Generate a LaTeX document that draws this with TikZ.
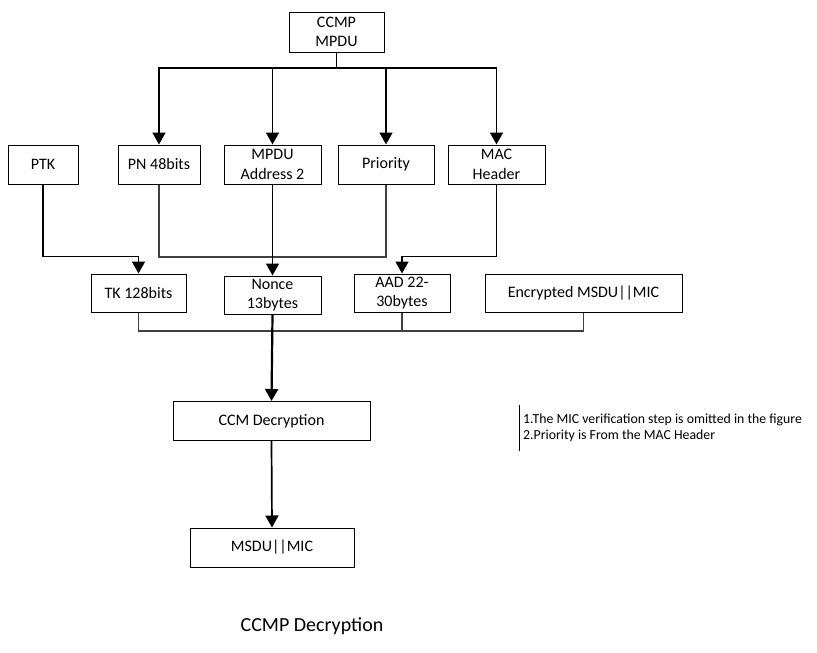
\documentclass[tikz,border=0pt]{standalone}
\usepackage{fontspec}
\setmainfont{Carlito}
\usetikzlibrary{arrows.meta}

\begin{document}
\begin{tikzpicture}[x=1pt,y=-1pt,
    box/.style={draw, line width=1pt, inner sep=0pt, align=center, minimum height=39pt, font=\fontsize{16}{19.5}\selectfont},
    arr/.style={line width=1.7pt, -{Triangle[width=13pt,length=12pt]}},
    link/.style={line width=1.4pt, black!75}]
      \useasboundingbox (0,0) rectangle (817,653);

      \node (ccmp) at (336.5,32) [box, minimum width=95pt, minimum height=40pt] {CCMP\\MPDU};
      \node (ptk) at (43,164.5) [box, minimum width=70pt] {PTK};
      \node (pn) at (159,164.5) [box, minimum width=82pt] {PN 48bits};
      \node (mpdu) at (272.5,164.5) [box, minimum width=97pt] {MPDU\\Address 2};
      \node (prio) at (386,164.5) [box, minimum width=96pt] {Priority};
      \node (mac) at (496.5,164.5) [box, minimum width=97pt] {MAC\\Header};

      \node (tk) at (138.5,293) [box, minimum width=95pt, minimum height=38pt] {TK 128bits};
      \node (nonce) at (272.5,295) [box, minimum width=97pt, minimum height=38pt] {Nonce\\13bytes};
      \node (aad) at (402,293) [box, minimum width=96pt, minimum height=38pt] {AAD 22-\\30bytes};
      \node (enc) at (583.5,293) [box, minimum width=197pt, minimum height=38pt] {Encrypted MSDU||MIC};

      \node (ccm) at (271.5,421) [box, minimum width=197pt] {CCM Decryption};
      \node (msdu) at (272,547.5) [box, minimum width=164pt] {MSDU||MIC};

      \node (note) at (523,428) [anchor=west, align=left, inner xsep=0pt, inner ysep=9pt,
        font=\fontsize{13.8}{16}\selectfont] {1.The MIC verification step is omitted in the figure\\2.Priority is From the MAC Header};
      \draw[line width=0.8pt] ([xshift=-4pt]note.north west) -- ([xshift=-4pt]note.south west);

      \node (title) at (312,626) [font=\fontsize{20}{24}\selectfont] {CCMP Decryption};

      % fan out of the MPDU
      \coordinate (top) at (336.5,68);
      \draw[line width=1.7pt] (ccmp.south) -- (top);
      \draw[arr] (top) -| (pn.north);
      \draw[arr] (top) -| (mpdu.north);
      \draw[arr] (top) -| (prio.north);
      \draw[arr] (top) -| (mac.north);

      % inputs of the second row
      \coordinate (jn) at (272.5,257);
      \draw[arr] (ptk.south) -- ++(0,72) -| (tk.north);
      \draw[link] (pn.south) |- (jn) -| (prio.south);
      \draw[arr] (mpdu.south) -- (nonce.north);
      \draw[arr] (mac.south) -- ++(0,72) -| (aad.north);

      % into the decryption
      \coordinate (jb) at (272.5,331);
      \draw[link] (tk.south) |- (jb) -| (enc.south);
      \draw[link] (aad.south) -- (aad.south |- jb);
      \draw[arr, line width=2.2pt] (nonce.south) -- (ccm.north);
      \draw[arr] (ccm.south) -- (msdu.north);

    \end{tikzpicture}
\end{document}
